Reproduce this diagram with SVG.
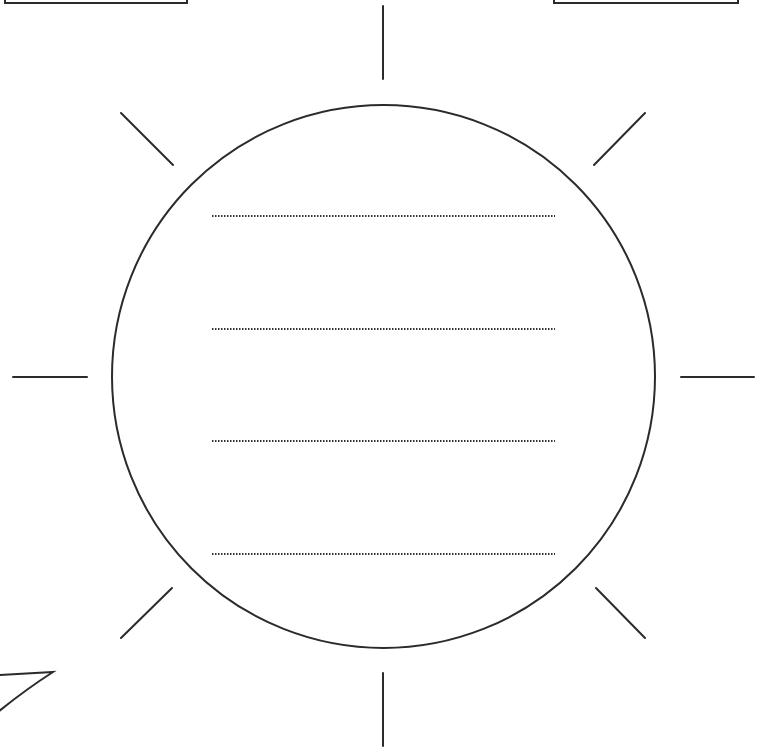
<svg xmlns="http://www.w3.org/2000/svg" width="768" height="755" viewBox="0 0 768 755">
<style>
.s{fill:none;stroke:#2b2b2b;stroke-width:2;stroke-linecap:round}
.d{fill:none;stroke:#333;stroke-width:2;stroke-dasharray:1.5 1.5}
</style>
<rect width="768" height="755" fill="#fff"/>
<g id="box-left"><path class="s" d="M5,-5 V3 H187 V-5"/></g>
<g id="box-right"><path class="s" d="M554,-5 V3 H738 V-5"/></g>
<g id="bubble"><path class="s" d="M-2,675 L53,672 Q25,690 -2,712"/></g>
<g id="sun">
<circle class="s" cx="383.5" cy="376.5" r="271.5"/>
<path class="d" d="M212,216H555M212,329H555M212,441H555M212,554H555"/>
</g>
<g id="rays">
<path class="s" d="M383,6V79M383,673V746M13,377H87M681,377H754M121,113L173,165M645,113L594,165M172,588L121,638M596,588L645,638"/>
</g>
</svg>
